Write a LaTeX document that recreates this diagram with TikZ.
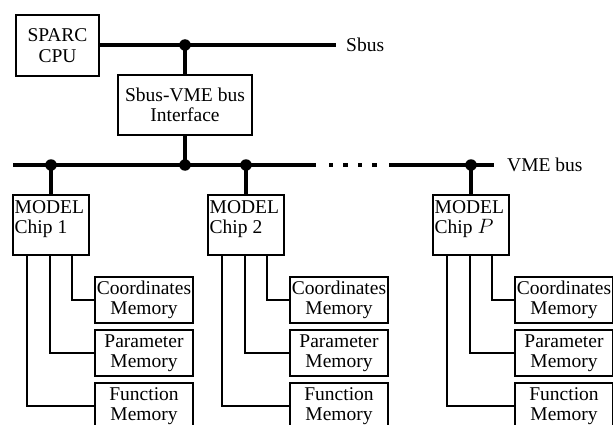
\documentclass[tikz,border=0pt]{standalone}
\usepackage{fontspec}
\setmainfont{Liberation Serif}
\begin{document}
\begin{tikzpicture}[x=1pt,y=-1pt,
  every node/.style={font=\fontsize{19.5}{20.5}\selectfont},
  box/.style={draw, line width=1.8pt, fill=white, align=center, inner sep=0pt},
  chipbox/.style={box, minimum width=76pt, minimum height=60pt},
  chiptext/.style={align=left, inner sep=0pt},
  membox/.style={box, minimum width=98pt, minimum height=46pt},
  bus/.style={line width=4.2pt},
  drop/.style={line width=3.8pt},
  link/.style={line width=1.8pt},
  dot/.style={circle, fill=black, inner sep=0pt, minimum size=11.5pt},
  buslabel/.style={anchor=west, inner sep=0pt}]
\useasboundingbox (0,0) rectangle (613,425);
\clip (0,0) rectangle (613,425);

% host side: CPU, Sbus and the bus bridge
\node[box, minimum width=83pt, minimum height=61pt] (cpu) at (57.5,45.5) {SPARC\\CPU};
\node[box, minimum width=134pt, minimum height=60pt] (iface) at (185,105) {Sbus-VME bus\\Interface};
\coordinate (sbusend) at (336,45);
\node[buslabel] (sbuslbl) at (346,45) {Sbus};
\draw[bus] (cpu.east |- sbusend) -- (sbusend);
\node[dot] (sdot) at (185,45) {};
\draw[drop] (sdot.center) -- (iface.north);

% VME bus with its gap
\coordinate (vmeL) at (13,165);
\coordinate (vmeA) at (316,165);
\coordinate (vmeB) at (389,165);
\coordinate (vmeR) at (494,165);
\draw[bus] (vmeL) -- (vmeA);
\draw[bus] (vmeB) -- (vmeR);
\foreach \i/\x in {1/331,2/345.5,3/360,4/374.5}
  \node[fill=black, minimum size=4.5pt, inner sep=0pt] (gap\i) at (\x,165) {};
\node[buslabel] (vmelbl) at (507,165) {VME bus};
\node[dot] (idot) at (185,165) {};
\draw[drop] (iface.south) -- (idot.center);

% one MODEL chip with its three memories
\foreach \n/\x/\lbl in {1/13/1, 2/208/2, 3/433/$P$}{
  \node[chipbox] (chip\n) at (\x+38,225) {};
  \node[chiptext, anchor=north west] (chipt\n) at (\x+1.5,200) {MODEL\\Chip \lbl};
  \node[dot] (cdot\n) at (\x+38,165) {};
  \draw[drop] (cdot\n.center) -- (chip\n.north);
  \node[membox] (coord\n) at (\x+131,300) {Coordinates\\Memory};
  \node[membox] (param\n) at (\x+131,353) {Parameter\\Memory};
  \node[membox] (func\n) at (\x+131,406) {Function\\Memory};
  \draw[link] (chip\n.south west) ++(60,0) coordinate (a\n) (a\n) |- (coord\n.west);
  \draw[link] (chip\n.south west) ++(38,0) coordinate (b\n) (b\n) |- (param\n.west);
  \draw[link] (chip\n.south west) ++(15,0) coordinate (c\n) (c\n) |- (func\n.west);
}
\end{tikzpicture}
\end{document}
